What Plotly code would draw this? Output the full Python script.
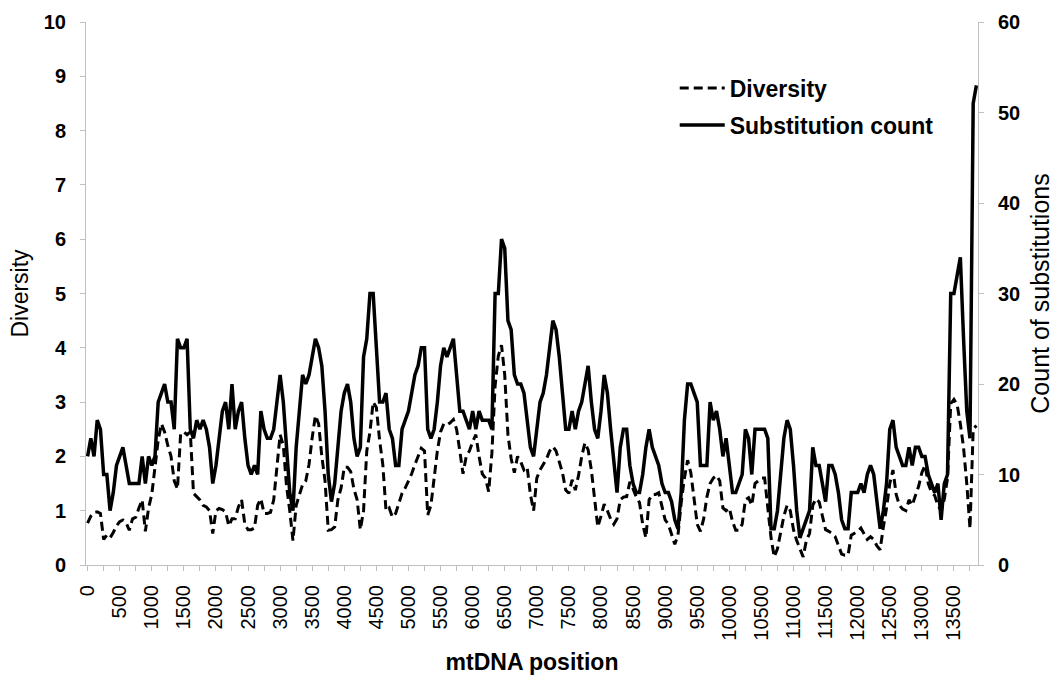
import plotly.graph_objects as go
from plotly.subplots import make_subplots

# Window start positions along the mtDNA (bp), one window every 50 bp
positions = list(range(0, 13900, 50))

# Nucleotide diversity per window
diversity = [
    0.77, 0.9, 0.97, 0.98, 0.95, 0.47, 0.55, 0.5, 0.6, 0.72, 0.8, 0.83, 0.78, 0.64, 0.85, 0.88,
    1.05, 1.2, 0.62, 1.05, 1.3, 1.75, 2.3, 2.6, 2.45, 2.2, 2.0, 1.55, 1.4, 2.42, 2.45, 2.4,
    2.45, 1.32, 1.26, 1.2, 1.1, 1.07, 1.0, 0.58, 1.0, 1.04, 1.02, 0.98, 0.72, 0.85, 0.85, 1.07,
    1.2, 0.75, 0.65, 0.65, 0.68, 1.1, 1.22, 0.95,
    0.95, 0.97, 1.2, 1.85, 2.4, 2.2, 1.45, 1.0, 0.45, 1.1, 1.3, 1.48, 1.55, 1.85, 2.35, 2.75,
    2.6, 2.0, 1.55, 0.64, 0.65, 0.7, 1.2, 1.42, 1.8, 1.8, 1.72, 1.4, 1.2, 0.65, 1.0, 2.1,
    2.45, 3.0, 2.9, 2.3, 1.85, 1.0, 1.05, 0.88, 0.95, 1.15, 1.32, 1.42, 1.55, 1.68, 1.85, 2.0,
    2.15, 2.1, 0.92, 1.1, 1.6, 2.1, 2.45, 2.6,
    2.58, 2.62, 2.68, 2.5, 2.1, 1.68, 2.0, 2.1, 2.27, 2.4, 2.0, 1.68, 1.6, 1.35, 2.06, 3.3,
    3.85, 4.05, 3.5, 2.4, 1.96, 1.7, 2.0, 1.9, 1.75, 1.8, 1.3, 1.0, 1.6, 1.75, 1.85, 1.95,
    2.1, 2.18, 2.1, 1.9, 1.7, 1.38, 1.32, 1.57, 1.38, 1.65, 2.0, 2.25, 2.12, 1.75, 1.25, 0.7,
    0.9, 1.12, 1.0, 0.85, 0.75, 0.85, 1.2, 1.25,
    1.26, 1.53, 1.4, 1.25, 1.15, 0.75, 0.5, 1.2, 1.3, 1.3, 1.33, 1.07, 0.83, 0.75, 0.55, 0.38,
    0.55, 1.15, 1.6, 1.93, 1.7, 1.2, 0.75, 0.62, 0.85, 1.25, 1.5, 1.6, 1.65, 1.55, 1.05, 1.0,
    1.05, 0.8, 0.64, 0.64, 0.75, 1.2, 1.24, 1.1, 1.5, 1.55, 1.6, 1.6, 1.1, 0.5, 0.15, 0.3,
    0.6, 0.9, 1.1, 1.0, 0.65, 0.45, 0.3,
    0.15, 0.45, 0.58, 1.1, 1.22, 1.16, 0.9, 0.65, 0.62, 0.58, 0.52, 0.35, 0.2, 0.18, 0.18, 0.55,
    0.58, 0.62, 0.68, 0.58, 0.47, 0.52, 0.47, 0.35, 0.28, 0.7, 1.05, 1.5, 1.75, 1.3, 1.1, 1.03,
    1.0, 1.2, 1.1, 1.28, 1.45, 1.7, 1.84, 1.5, 1.34, 1.28, 1.1, 1.0, 1.21, 1.6, 2.97, 3.05,
    2.95, 2.6, 2.16, 1.5, 0.67, 2.5, 2.57,
]

# Number of substitutions per window
substitutions = [
    12, 14, 12, 16, 15, 10, 10, 6, 8, 11, 12, 13, 11, 9, 9, 9,
    9, 12, 9, 12, 11, 12, 18, 19, 20, 18, 18, 15, 25, 24, 24, 25,
    15, 14, 16, 15, 16, 15, 13, 9, 11, 14, 17, 18, 15, 20, 15, 17,
    18, 14, 11, 10, 11, 10, 17, 15,
    14, 14, 15, 18, 21, 18, 13, 8, 6, 13, 17, 21, 20, 21, 23, 25,
    24, 22, 17, 10, 7, 9, 13, 17, 19, 20, 18, 14, 12, 13, 23, 25,
    30, 30, 24, 18, 18, 19, 15, 14, 11, 11, 15, 16, 17, 19, 21, 22,
    24, 24, 15, 14, 15, 18, 22, 24,
    23, 24, 25, 21, 17, 17, 16, 15, 17, 15, 17, 16, 16, 16, 15, 30,
    30, 36, 35, 27, 26, 21, 20, 20, 19, 16, 13, 12, 15, 18, 19, 21,
    24, 27, 26, 23, 19, 15, 15, 17, 15, 17, 18, 20, 22, 18, 15, 14,
    17, 21, 19, 15, 11, 8, 13, 15,
    15, 11, 9, 8, 8, 10, 13, 15, 13, 12, 11, 9, 8, 8, 7, 5,
    4, 8, 16, 20, 20, 19, 18, 11, 11, 11, 18, 16, 17, 15, 12, 14,
    11, 8, 8, 9, 10, 15, 14, 10, 15, 15, 15, 15, 14, 4, 4, 6,
    10, 14, 16, 15, 11, 6, 3,
    4, 5, 6, 13, 11, 11, 9, 7, 11, 11, 10, 8, 5, 4, 4, 8,
    8, 8, 9, 8, 10, 11, 10, 7, 4, 6, 9, 15, 16, 13, 12, 11,
    11, 13, 11, 13, 13, 12, 12, 10, 9, 8, 9, 5, 9, 10, 30, 30,
    32, 34, 25, 17, 14, 51, 53,
]

# Axis labels along the genome
tick_positions = list(range(0, 14000, 500))
tick_labels = [str(v) for v in tick_positions]

FONT = "Arial, Liberation Sans, sans-serif"
AXIS_GREY = "#bfbfbf"

fig = make_subplots(specs=[[{"secondary_y": True}]])

fig.add_trace(
    go.Scatter(
        x=positions, y=diversity, name="Diversity", mode="lines",
        line=dict(color="black", width=3, dash="9px,5px"),
        legendgroup="a",
    ),
    secondary_y=False,
)
fig.add_trace(
    go.Scatter(
        x=positions, y=substitutions, name="Substitution count", mode="lines",
        line=dict(color="black", width=3.5),
        legendgroup="b",
    ),
    secondary_y=True,
)

fig.update_layout(
    width=1059, height=679,
    margin=dict(l=86, r=81, t=22, b=114),
    paper_bgcolor="white", plot_bgcolor="white",
    font=dict(family=FONT, color="black"),
    legend=dict(
        x=0.66, y=0.918, xanchor="left", yanchor="top",
        bgcolor="rgba(0,0,0,0)",
        font=dict(size=23, weight="bold", family=FONT),
        tracegroupgap=4,
        itemwidth=45,
    ),
    showlegend=True,
)

fig.update_xaxes(
    domain=[0, 1],
    range=[-25, 13875],
    tickmode="array", tickvals=tick_positions, ticktext=tick_labels,
    tickangle=-90,
    tickfont=dict(size=20, family=FONT),
    ticklabelstandoff=6,
    ticks="outside", ticklen=5, tickcolor=AXIS_GREY,
    minor=dict(dtick=250, tick0=0, ticks="outside", ticklen=5, tickcolor=AXIS_GREY),
    showline=True, linecolor=AXIS_GREY, linewidth=1,
    showgrid=False, zeroline=False, automargin=False,
    title=dict(text="mtDNA position", font=dict(size=23, weight="bold", family=FONT), standoff=14),
)

fig.update_yaxes(
    range=[0, 10], dtick=1,
    tickfont=dict(size=20, weight="bold", family=FONT),
    ticklabelstandoff=10,
    ticks="outside", ticklen=5, tickcolor=AXIS_GREY,
    showline=True, linecolor=AXIS_GREY, linewidth=1,
    showgrid=False, zeroline=False, automargin=False,
    title=dict(text="Diversity", font=dict(size=23, family=FONT), standoff=8),
    secondary_y=False,
)
fig.update_yaxes(
    range=[0, 60], dtick=10,
    tickfont=dict(size=20, weight="bold", family=FONT),
    ticklabelstandoff=10,
    ticks="outside", ticklen=5, tickcolor=AXIS_GREY,
    showline=True, linecolor=AXIS_GREY, linewidth=1,
    showgrid=False, zeroline=False, automargin=False,
    title=dict(text="Count of substitutions", font=dict(size=25, family=FONT), standoff=12),
    secondary_y=True,
)

fig.write_html("out.html")
